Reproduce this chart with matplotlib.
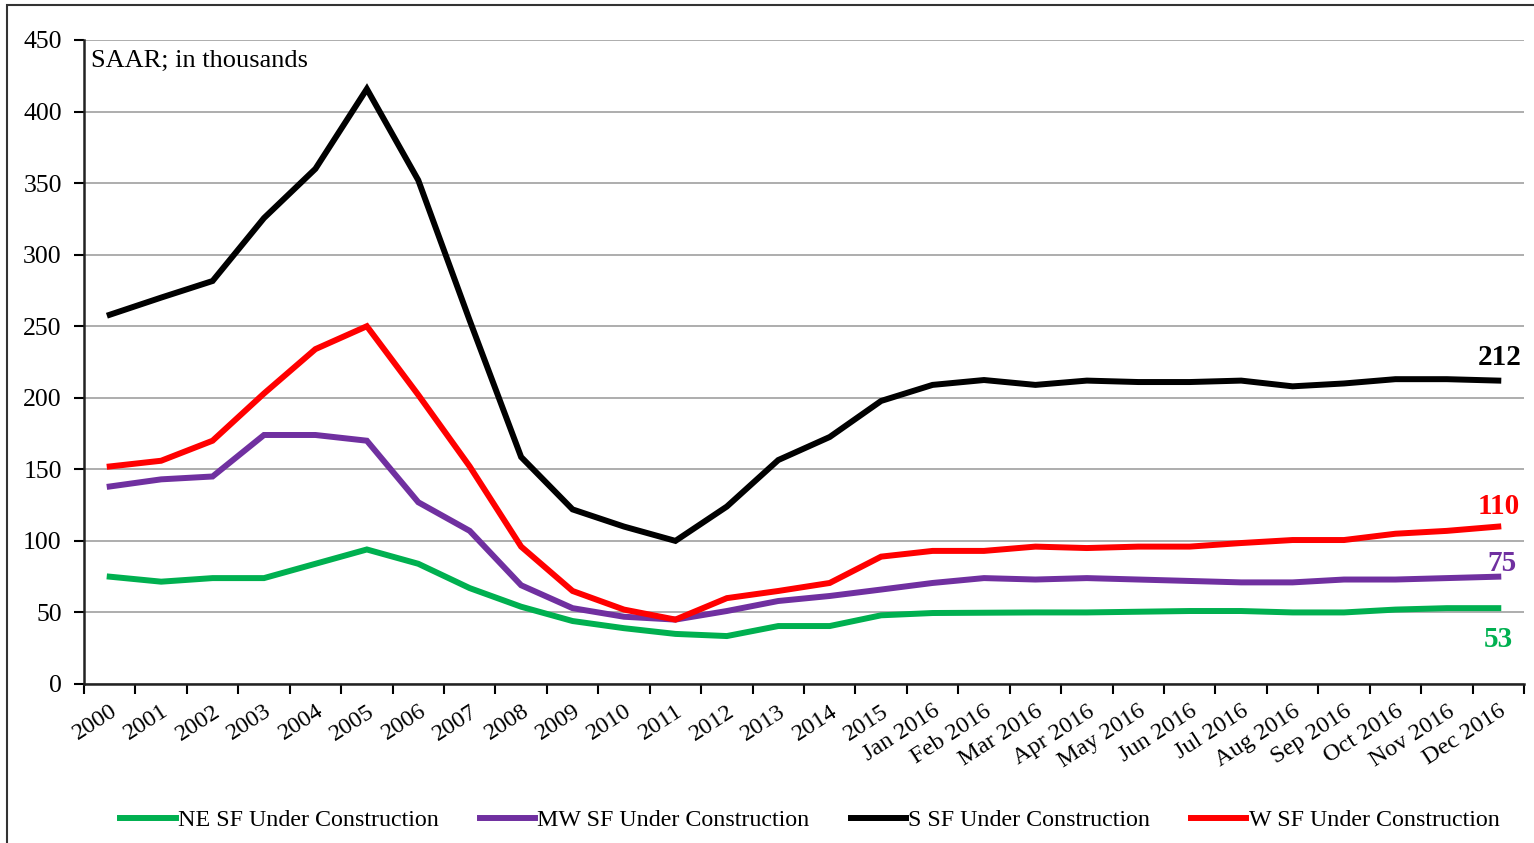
import matplotlib
matplotlib.use("Agg")
import matplotlib.pyplot as plt
from matplotlib.patches import Rectangle

categories = ["2000", "2001", "2002", "2003", "2004", "2005", "2006", "2007",
              "2008", "2009", "2010", "2011", "2012", "2013", "2014", "2015",
              "Jan 2016", "Feb 2016", "Mar 2016", "Apr 2016", "May 2016",
              "Jun 2016", "Jul 2016", "Aug 2016", "Sep 2016", "Oct 2016",
              "Nov 2016", "Dec 2016"]

ne = [75, 71.5, 74, 74, 84, 94, 84, 67, 54, 44, 39, 35, 33.5, 40.5, 40.5, 48,
      49.6, 49.8, 50, 50, 50.5, 51, 51, 50, 50, 52, 53, 53]
mw = [138, 143, 145, 174, 174, 170, 127, 107, 69, 53, 47, 45, 51, 58, 61.5, 66,
      70.6, 74, 73, 74, 73, 72, 71, 71, 73, 73, 74, 75]
s = [258, 270, 281.6, 325.6, 360, 415.8, 352, 254, 158.6, 122, 110, 100, 124,
     156.5, 172.6, 197.8, 209, 212.4, 209, 212, 211, 211, 212, 208, 210, 213,
     213, 212]
w = [152, 156, 170, 203, 234, 250, 202, 152, 96, 65, 52, 45, 60, 65, 70.6, 89,
     93, 93, 96, 95, 96, 96, 98.5, 100.6, 100.6, 105, 107, 110]

series = [
    ("NE SF Under Construction", ne, "#00B050"),
    ("MW SF Under Construction", mw, "#7030A0"),
    ("S SF Under Construction", s, "#000000"),
    ("W SF Under Construction", w, "#FF0000"),
]

plt.rcParams['font.family'] = ['Liberation Serif', 'DejaVu Serif']

fig = plt.figure(figsize=(15.34, 8.43), dpi=100)
ax = fig.add_axes([84/1534, 1-684/843, 1440/1534, 644/843])

x = list(range(len(categories)))
handles = []
for name, vals, col in series:
    h, = ax.plot(x, vals, color=col, lw=4.3, solid_joinstyle='miter', label=name)
    handles.append(h)

ax.set_xlim(-0.5, len(categories) - 0.5)
ax.set_ylim(0, 450)
ax.set_yticks(range(0, 451, 50))
ax.yaxis.grid(True, color="#A0A0A0", lw=1.2)
ax.set_axisbelow(True)

ax.set_xticks(x)
ax.set_xticklabels(categories, rotation=33, ha='right', rotation_mode='anchor',
                   fontsize=17.5)
ax.set_xticks([i - 0.5 for i in range(len(categories) + 1)], minor=True)
ax.tick_params(axis='x', which='major', length=0, pad=12)
ax.tick_params(axis='x', which='minor', length=7, width=1.5, direction='out')
ax.tick_params(axis='y', length=7, width=1.5, labelsize=18.5, pad=9)

for sp in ['top', 'right']:
    ax.spines[sp].set_visible(False)
for sp in ['left', 'bottom']:
    ax.spines[sp].set_linewidth(1.8)
    ax.spines[sp].set_color('#222222')

ax.text(0.005, 0.985, "SAAR; in thousands", transform=ax.transAxes,
        fontsize=19, va='top', ha='left')

# end labels
ax.annotate("212", (x[-1], s[-1]), xytext=(1, 7), textcoords='offset points',
            color="#000000", fontsize=21, fontweight='bold', ha='center', va='bottom')
ax.annotate("110", (x[-1], w[-1]), xytext=(0, 5), textcoords='offset points',
            color="#FF0000", fontsize=21, fontweight='bold', ha='center', va='bottom')
ax.annotate("75", (x[-1], mw[-1]), xytext=(3, 0), textcoords='offset points',
            color="#7030A0", fontsize=21, fontweight='bold', ha='center', va='bottom')
ax.annotate("53", (x[-1], ne[-1]), xytext=(0, -13), textcoords='offset points',
            color="#00B050", fontsize=21, fontweight='bold', ha='center', va='top')

fig.legend(handles=handles, loc='center', bbox_to_anchor=(0.528, 1-820/843),
           ncol=4, frameon=False, fontsize=17.3, handlelength=2.3,
           handletextpad=0.1, columnspacing=1.7)

fig.patches.append(Rectangle((7/1534, -0.05), 1.1, 1 - 5/843 + 0.05,
                             transform=fig.transFigure, fill=False,
                             edgecolor='#333333', lw=1.5))

fig.savefig("out.png", dpi=100)
